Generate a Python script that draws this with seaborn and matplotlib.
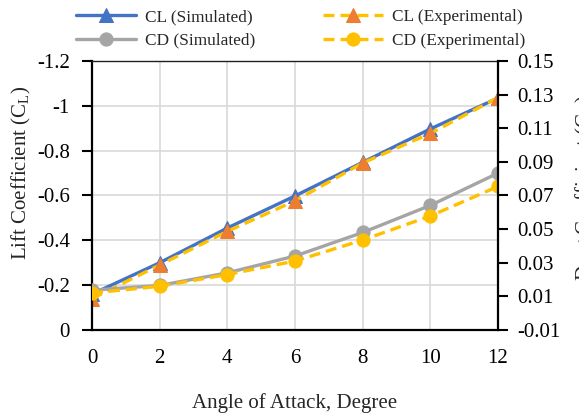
import matplotlib
matplotlib.use("Agg")
import matplotlib.pyplot as plt
import seaborn as sns
import pandas as pd

# ---- data ----
angle = [0, 2, 4, 6, 8, 10, 12]
cl_sim = [-0.160, -0.300, -0.455, -0.598, -0.748, -0.897, -1.035]
cl_exp = [-0.140, -0.290, -0.440, -0.576, -0.745, -0.877, -1.037]
cd_sim = [0.0137, 0.0165, 0.0240, 0.0340, 0.0480, 0.0641, 0.0833]
cd_exp = [0.0120, 0.0160, 0.0230, 0.0310, 0.0435, 0.0578, 0.0754]

x_ticks = [0, 2, 4, 6, 8, 10, 12]
cl_ticks = [0, -0.2, -0.4, -0.6, -0.8, -1.0, -1.2]
cl_tick_labels = ["0", "-0.2", "-0.4", "-0.6", "-0.8", "-1", "-1.2"]
cd_ticks = [-0.01, 0.01, 0.03, 0.05, 0.07, 0.09, 0.11, 0.13, 0.15]
cd_tick_labels = ["-0.01", "0.01", "0.03", "0.05", "0.07", "0.09", "0.11", "0.13", "0.15"]

labels = ["CL (Simulated)", "CL (Experimental)", "CD (Simulated)", "CD (Experimental)"]

df = pd.DataFrame({"angle": angle, "cl_sim": cl_sim, "cl_exp": cl_exp,
                   "cd_sim": cd_sim, "cd_exp": cd_exp})

sns.set_style("white")
plt.rcParams["font.family"] = ["Liberation Serif", "DejaVu Serif"]
plt.rcParams["mathtext.fontset"] = "custom"
plt.rcParams["mathtext.rm"] = "Liberation Serif"

BLUE = "#4472C4"
ORANGE = "#ED7D31"
GRAY = "#A5A5A5"
YELLOW = "#FFC000"
GRID = "#D9D9D9"
FS = 15

fig = plt.figure(figsize=(5.79, 4.16), dpi=100)
ax = fig.add_axes([92 / 579, 1 - 330 / 416, (498 - 92) / 579, (330 - 61) / 416])
ax2 = ax.twinx()

dash = (0, (3.3, 1.8))
sns.lineplot(data=df, x="angle", y="cl_sim", ax=ax, color=BLUE, lw=2.4,
             marker="^", ms=10, markerfacecolor=BLUE, markeredgecolor=BLUE,
             label=labels[0], legend=False)
sns.lineplot(data=df, x="angle", y="cl_exp", ax=ax, color=YELLOW, lw=2.4,
             linestyle=dash, marker="^", ms=10, markerfacecolor=ORANGE,
             markeredgecolor=ORANGE, label=labels[1], legend=False)
sns.lineplot(data=df, x="angle", y="cd_sim", ax=ax2, color=GRAY, lw=2.4,
             marker="o", ms=9.5, markerfacecolor=GRAY, markeredgecolor=GRAY,
             label=labels[2], legend=False)
sns.lineplot(data=df, x="angle", y="cd_exp", ax=ax2, color=YELLOW, lw=2.4,
             linestyle=dash, marker="o", ms=9.5, markerfacecolor=YELLOW,
             markeredgecolor=YELLOW, label=labels[3], legend=False)

# left axis
ax.set_xlim(0, 12)
ax.set_ylim(0, -1.2)
ax.set_xticks(x_ticks)
ax.set_xticklabels([str(v) for v in x_ticks], fontsize=FS)
ax.set_yticks(cl_ticks)
ax.set_yticklabels(cl_tick_labels, fontsize=FS)
ax.grid(True, color=GRID, lw=1.2)
ax.set_axisbelow(True)
ax.tick_params(axis="x", direction="in", length=6, width=1.5, pad=14, colors="black")
ax.tick_params(axis="y", direction="out", length=7, width=1.5, pad=9, colors="black")
ax.set_xlabel("Angle of Attack, Degree", fontsize=FS, labelpad=18)
ax.set_ylabel("Lift Coefficient (C$_\\mathregular{L}$)", fontsize=FS, labelpad=3)
ax.yaxis.label.set_y(0.585)
for s in ["left", "bottom"]:
    ax.spines[s].set_color("black")
    ax.spines[s].set_linewidth(1.6)
ax.spines["top"].set_color("#202020")
ax.spines["top"].set_linewidth(1.0)
ax.spines["right"].set_visible(False)

# right axis
ax2.set_ylim(-0.01, 0.15)
ax2.set_yticks(cd_ticks)
ax2.set_yticklabels(cd_tick_labels, fontsize=FS)
ax2.tick_params(axis="y", direction="out", length=7, width=1.5, pad=7, colors="black")
ax2.set_ylabel("Drag Coefficient (C$_\\mathregular{D}$)", fontsize=FS, labelpad=9)
ax2.yaxis.label.set_y(0.53)
ax2.grid(False)
for s in ["left", "top", "bottom"]:
    ax2.spines[s].set_visible(False)
ax2.spines["right"].set_color("black")
ax2.spines["right"].set_linewidth(1.6)
ax2.set_xlabel("")

h1, l1 = ax.get_legend_handles_labels()
h2, l2 = ax2.get_legend_handles_labels()
hmap = dict(zip(l1 + l2, h1 + h2))
order = [labels[0], labels[2], labels[1], labels[3]]
fig.legend([hmap[k] for k in order], order, ncol=2, frameon=False,
           loc="upper left", bbox_to_anchor=(76 / 579, 1 - 9 / 416),
           fontsize=12.4, handlelength=3.5, handletextpad=0.5,
           columnspacing=3.95, labelspacing=0.45, borderpad=0, borderaxespad=0)

fig.savefig("out.png", dpi=100)
